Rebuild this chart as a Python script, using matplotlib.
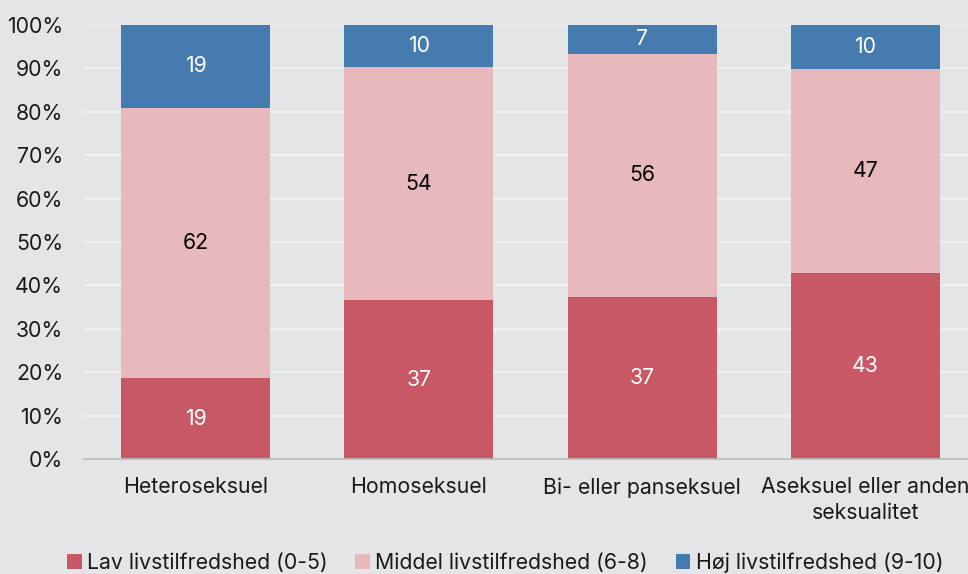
import matplotlib
matplotlib.use("Agg")
import matplotlib.pyplot as plt
import numpy as np

categories = ["Heteroseksuel", "Homoseksuel", "Bi- eller panseksuel", "Aseksuel eller anden\nseksualitet"]
series_names = ["Lav livstilfredshed (0-5)", "Middel livstilfredshed (6-8)", "Høj livstilfredshed (9-10)"]
lav = [18.6, 36.6, 37.4, 42.8]
middel = [62.3, 53.7, 56.0, 47.1]
hoj = [19.1, 9.7, 6.6, 10.1]
yticks = [0, 10, 20, 30, 40, 50, 60, 70, 80, 90, 100]

colors = ["#c85864", "#e7b8bc", "#467baf"]
label_colors = ["white", "black", "white"]
bg = "#e4e5e7"
fs = 15.3

plt.rcParams['font.family'] = ['Inter', 'DejaVu Sans']

fig = plt.figure(figsize=(9.68, 5.74), dpi=100)
fig.patch.set_facecolor(bg)
ax = fig.add_axes([84/968, 1-459/574, 893/968, 434/574])
ax.set_facecolor(bg)

x = np.arange(len(categories))
width = 0.668
bottom = np.zeros(len(categories))
for vals, col, lc, name in zip([lav, middel, hoj], colors, label_colors, series_names):
    vals = np.array(vals)
    ax.bar(x, vals, width, bottom=bottom, color=col, label=name, zorder=3)
    for xi, b, v in zip(x, bottom, vals):
        ax.text(xi, b + v/2, f"{round(v):d}", ha="center", va="center", color=lc,
                fontsize=fs, zorder=4)
    bottom += vals

ax.set_xlim(-0.5, len(categories) - 0.5)
ax.set_ylim(0, 100)
ax.set_yticks(yticks)
ax.set_yticklabels([f"{t}%" for t in yticks], fontsize=fs, color="#1a1a1a")
ax.set_xticks(x)
ax.set_xticklabels(categories, fontsize=fs, color="#1a1a1a", linespacing=1.4)
ax.tick_params(axis="both", length=0)
ax.tick_params(axis="y", pad=15)
ax.tick_params(axis="x", pad=13)
ax.grid(axis="y", color="#f2f2f4", linewidth=1.3, zorder=0)
for s in ["top", "right", "left"]:
    ax.spines[s].set_visible(False)
ax.spines["bottom"].set_color("#bdbdbd")
ax.spines["bottom"].set_linewidth(1.3)
ax.spines["bottom"].set_zorder(5)

leg = fig.legend(loc="center", bbox_to_anchor=(505/968, 1-563/574), ncol=3, frameon=False,
                 fontsize=fs, handlelength=0.7, handleheight=0.7, handletextpad=0.25,
                 columnspacing=1.3)
for t in leg.get_texts():
    t.set_color("#1a1a1a")

fig.savefig("out.png", dpi=100, facecolor=bg)
